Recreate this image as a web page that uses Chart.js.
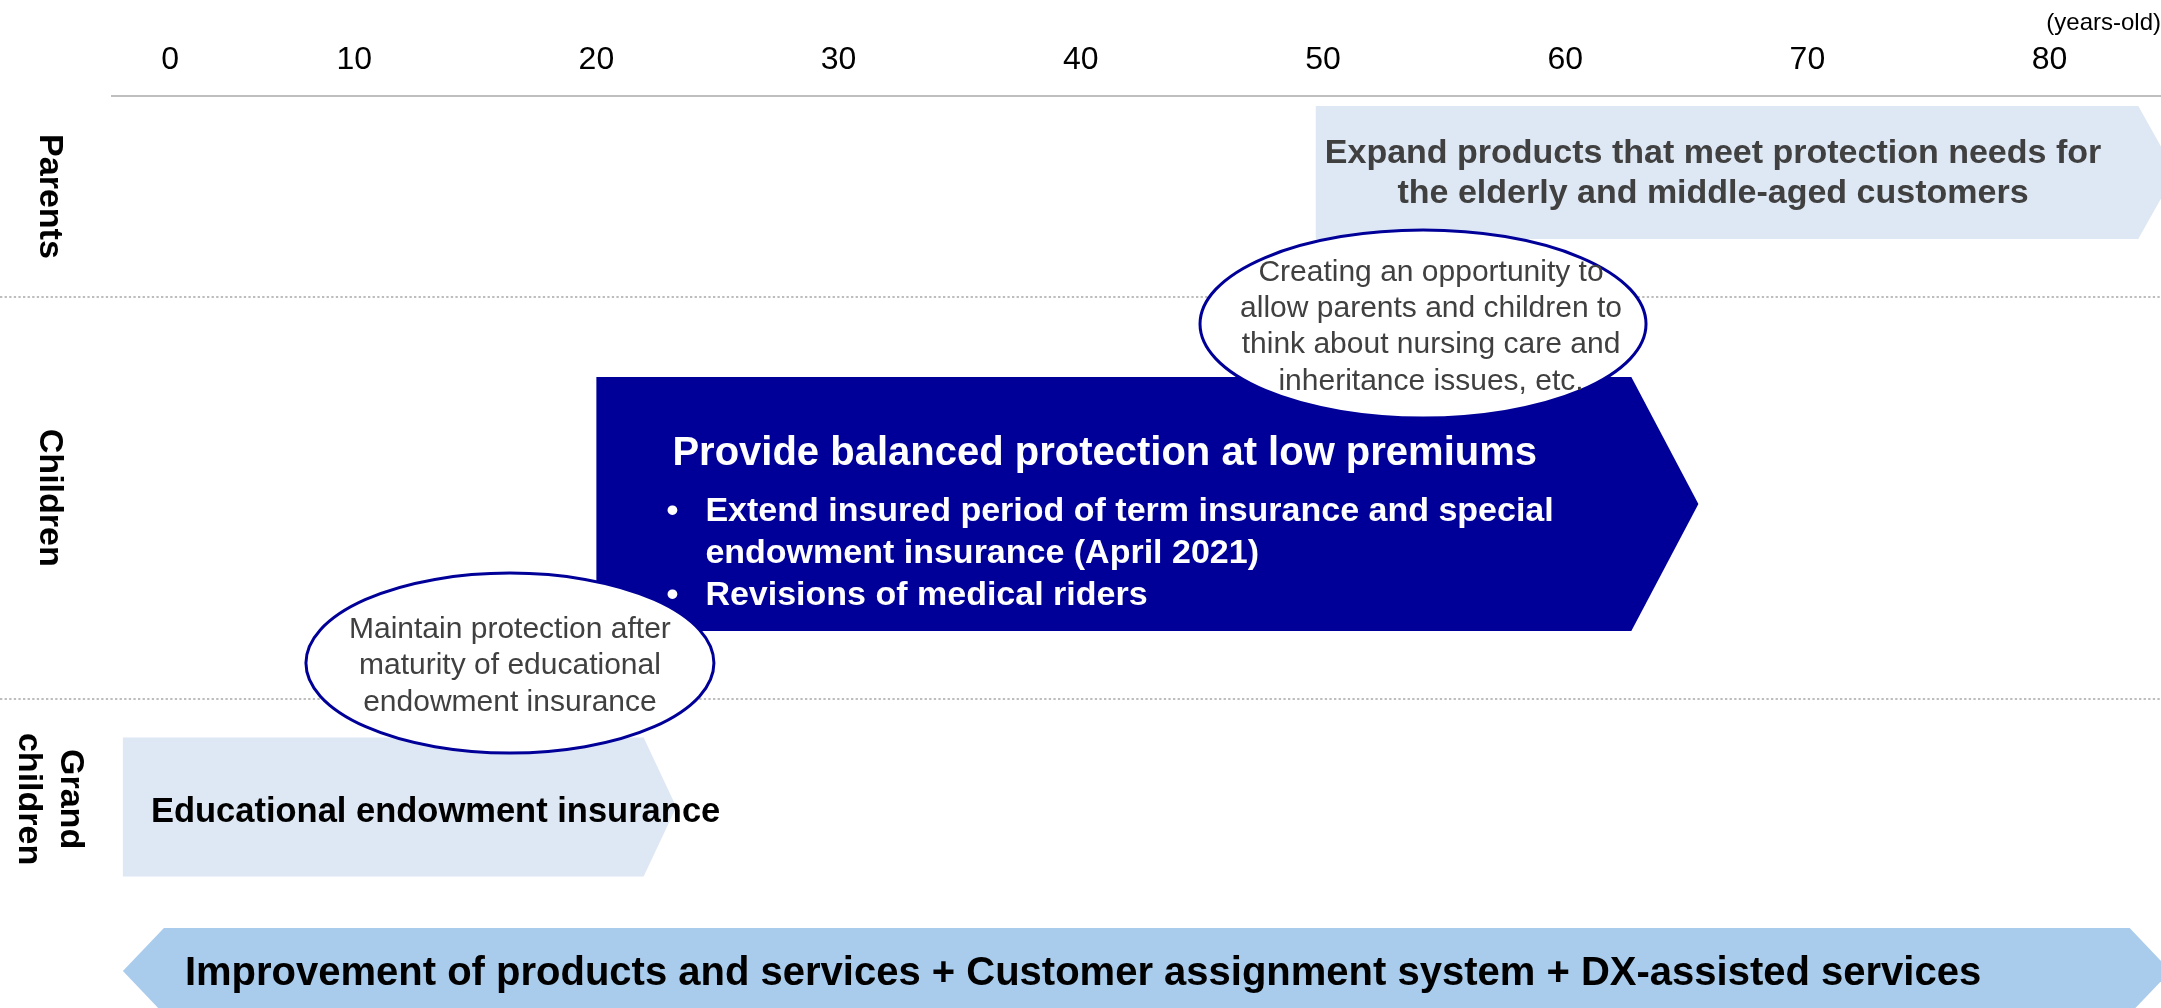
<!DOCTYPE html>
<html>
<head>
<meta charset="utf-8">
<script src="https://cdn.jsdelivr.net/npm/chart.js@4.4.1/dist/chart.umd.min.js"></script>
<style>
  html, body { margin: 0; padding: 0; background: #fff; }
  canvas { display: block; }
</style>
</head>
<body>
<canvas id="lifeStageChart" width="2161" height="1008"></canvas>
<script>
/// === DATA === ///
const lanes = ['Parents', 'Children', 'Grand children'];
const ageTickLabels = ['0', '10', '20', '30', '40', '50', '60', '70', '80'];
const ageTickSpots = [2.4, 10, 20, 30, 40, 50, 60, 70, 80];

const planTitles = [
  'Expand products that meet protection needs for\nthe elderly and middle-aged customers',
  'Provide balanced protection at low premiums',
  'Educational endowment insurance',
  'Improvement of products and services + Customer assignment system + DX-assisted services'
];
const planStartAge = [49.7, 20, 0.45, 0.45];
const planEndAge = [85.2, 65.5, 23.3, 85.0];

const childrenBullets = [
  'Extend insured period of term insurance and special\nendowment insurance (April 2021)',
  'Revisions of medical riders'
];

const calloutTexts = [
  'Creating an opportunity to\nallow parents and children to\nthink about nursing care and\ninheritance issues, etc.',
  'Maintain protection after\nmaturity of educational\nendowment insurance'
];

/// === LAYOUT & STYLE === ///
// vertical positions are lane units: Parents 0-1, Children 1-3, Grand children 3-4, service strip below
const laneBands = [[0, 1], [1, 3], [3, 4]];
const barLane = [0.381, 2.031, 3.539, 4.356];
const barThickness = [133, 254, 139, 86];
const barColors = ['#DEE8F4', '#000099', '#DEE8F4', '#A9CBEC'];
const textColors = ['#404040', '#FFFFFF', '#000000', '#000000'];
const arrowHeads = ['right', 'right', 'right', 'both'];
const headRatio = [0.28, 0.264, 0.235, 0.477];
const callouts = [
  { age: 54.13, lane: 1.135, rx: 223, ry: 94, dx: 8 },
  { age: 16.43, lane: 2.823, rx: 204, ry: 90, dx: 0 }
];
const SANS = '"Liberation Sans", Arial, sans-serif';
const NAVY = '#000099';

Chart.defaults.font.family = SANS;
Chart.defaults.color = '#000';

/// === PLUGINS === ///
// bars are drawn as chevrons / double arrows instead of plain rectangles
const arrowBars = {
  id: 'arrowBars',
  beforeDatasetDraw(chart, args) {
    const ds = chart.data.datasets[args.index];
    const ctx = chart.ctx;
    args.meta.data.forEach(bar => {
      const { x, y, base, height } = bar;
      const top = y - height / 2;
      const bottom = y + height / 2;
      const head = height * ds.headRatio;
      ctx.save();
      ctx.fillStyle = ds.backgroundColor;
      ctx.beginPath();
      if (ds.head === 'both') {
        ctx.moveTo(base, y);
        ctx.lineTo(base + head, top);
      } else {
        ctx.moveTo(base, top);
      }
      ctx.lineTo(x - head, top);
      ctx.lineTo(x, y);
      ctx.lineTo(x - head, bottom);
      ctx.lineTo(ds.head === 'both' ? base + head : base, bottom);
      ctx.closePath();
      ctx.fill();
      ctx.restore();
    });
    return false;
  }
};

// dotted separators between generations + rotated lane names
const laneGuides = {
  id: 'laneGuides',
  beforeDatasetsDraw(chart) {
    const ctx = chart.ctx;
    const yScale = chart.scales.y;
    ctx.save();
    ctx.strokeStyle = '#BDBDBD';
    ctx.lineWidth = 2;
    ctx.setLineDash([2.3, 2.3]);
    laneBands.slice(1).forEach(band => {
      const y = Math.round(yScale.getPixelForValue(band[0]));
      ctx.beginPath();
      ctx.moveTo(0, y);
      ctx.lineTo(chart.width, y);
      ctx.stroke();
    });
    ctx.restore();
  },
  afterDatasetsDraw(chart) {
    const ctx = chart.ctx;
    const yScale = chart.scales.y;
    ctx.save();
    ctx.font = 'bold 34px ' + SANS;
    ctx.fillStyle = '#000';
    ctx.textAlign = 'center';
    ctx.textBaseline = 'middle';
    lanes.forEach((name, i) => {
      const mid = yScale.getPixelForValue((laneBands[i][0] + laneBands[i][1]) / 2);
      const words = name.split(' ');
      ctx.save();
      ctx.translate(49.5, mid);
      ctx.rotate(Math.PI / 2);
      words.forEach((w, k) => ctx.fillText(w, 0, (k - (words.length - 1) / 2) * 42));
      ctx.restore();
    });
    ctx.restore();
  }
};

// texts inside the bars, then the oval callouts on top
const barLabels = {
  id: 'barLabels',
  afterDatasetsDraw(chart) {
    const ctx = chart.ctx;
    const bar = i => chart.getDatasetMeta(i).data[0];
    ctx.save();
    ctx.textBaseline = 'middle';

    // parents
    const p = bar(0);
    const pEnd = p.x - p.height * headRatio[0];
    ctx.font = 'bold 34px ' + SANS;
    ctx.fillStyle = textColors[0];
    ctx.textAlign = 'center';
    planTitles[0].split('\n').forEach((line, k) => {
      ctx.fillText(line, (p.base + pEnd) / 2 - 14, p.y - 19 + k * 40);
    });

    // children
    const c = bar(1);
    ctx.textAlign = 'left';
    ctx.fillStyle = textColors[1];
    ctx.font = 'bold 40px ' + SANS;
    ctx.fillText(planTitles[1], c.base + 76, c.y - 50);
    ctx.font = 'bold 34px ' + SANS;
    let row = 0;
    childrenBullets.forEach(item => {
      ctx.textAlign = 'center';
      ctx.fillText('\u2022', c.base + 76, c.y + 8 + row * 41.7);
      ctx.textAlign = 'left';
      item.split('\n').forEach(line => {
        ctx.fillText(line, c.base + 109, c.y + 8 + row * 41.7);
        row++;
      });
    });

    // grandchildren
    const g = bar(2);
    ctx.fillStyle = textColors[2];
    ctx.font = 'bold 34.5px ' + SANS;
    ctx.fillText(planTitles[2], g.base + 28, g.y + 6);

    // service strip
    const s = bar(3);
    ctx.fillStyle = textColors[3];
    ctx.font = 'bold 40px ' + SANS;
    ctx.fillText(planTitles[3], s.base + 62, s.y + 3);

    // callouts
    callouts.forEach((co, i) => {
      const cx = chart.scales.x.getPixelForValue(co.age);
      const cy = chart.scales.y.getPixelForValue(co.lane);
      ctx.beginPath();
      ctx.ellipse(cx, cy, co.rx, co.ry, 0, 0, Math.PI * 2);
      ctx.fillStyle = '#FFFFFF';
      ctx.fill();
      ctx.lineWidth = 3;
      ctx.strokeStyle = NAVY;
      ctx.stroke();
      const lines = calloutTexts[i].split('\n');
      ctx.font = '30px ' + SANS;
      ctx.fillStyle = '#404040';
      ctx.textAlign = 'center';
      lines.forEach((line, k) => {
        ctx.fillText(line, cx + co.dx, cy + 3 + (k - (lines.length - 1) / 2) * 36.3);
      });
    });
    ctx.restore();
  }
};

/// === CHART === ///
const datasets = planTitles.map((title, i) => ({
  label: title,
  data: [{ x: [planStartAge[i], planEndAge[i]], y: barLane[i] }],
  backgroundColor: barColors[i],
  barThickness: barThickness[i],
  grouped: false,
  head: arrowHeads[i],
  headRatio: headRatio[i]
}));

new Chart(document.getElementById('lifeStageChart'), {
  type: 'bar',
  data: { datasets },
  options: {
    indexAxis: 'y',
    responsive: false,
    animation: false,
    events: [],
    layout: { padding: { left: 112, top: 0, right: 0, bottom: 0 } },
    plugins: {
      legend: { display: false },
      tooltip: { enabled: false }
    },
    scales: {
      x: {
        type: 'linear',
        position: 'top',
        min: 0,
        max: 84.6,
        afterBuildTicks: axis => {
          axis.ticks = ageTickSpots.map(v => ({ value: v }));
        },
        afterFit: axis => {
          axis.height = 96;
        },
        ticks: {
          autoSkip: false,
          maxRotation: 0,
          padding: 17,
          color: '#000',
          font: { size: 32 },
          callback: (value, index) => ageTickLabels[index]
        },
        grid: { display: false, drawTicks: false },
        border: { display: true, color: '#BFBFBF', width: 2 },
        title: {
          display: true,
          text: '(years-old)',
          align: 'end',
          color: '#000',
          padding: { top: 9, bottom: 0 },
          font: { size: 24, family: '"Liberation Sans Narrow", ' + SANS }
        }
      },
      y: {
        type: 'linear',
        display: false,
        offset: false,
        reverse: true,
        min: 0,
        max: 4.54
      }
    }
  },
  plugins: [laneGuides, arrowBars, barLabels]
});
</script>
</body>
</html>
